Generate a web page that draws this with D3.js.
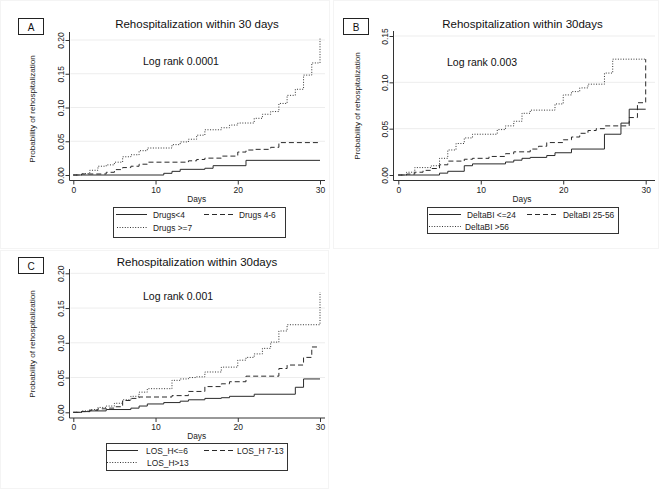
<!DOCTYPE html>
<html><head><meta charset="utf-8">
<script src="https://cdn.jsdelivr.net/npm/d3@7"></script>
<style>
body{margin:0;background:#fff;}
svg{display:block;font-family:"Liberation Sans",Arial,sans-serif;}
</style></head>
<body><svg id="c" width="668" height="491"></svg>
<script>
// ---------------- DATA ----------------
const xTicks = [0, 10, 20, 30];
const yTicksA = [0, 0.05, 0.10, 0.15, 0.20];
const yTicksB = [0, 0.05, 0.10, 0.15];
const yTicksC = [0, 0.05, 0.10, 0.15, 0.20];

// Panel A
const drugsLt4T = [0, 11, 12, 13, 16, 17, 21, 30];
const drugsLt4V = [0, 0.0025, 0.0054, 0.0084, 0.010, 0.0138, 0.0217, 0.0217];
const drugs4to6T = [0, 1, 4, 5, 6, 7, 8, 9, 14, 15, 16, 18, 20, 21, 22, 24, 25, 30];
const drugs4to6V = [0, 0.0015, 0.004, 0.008, 0.011, 0.013, 0.016, 0.019, 0.021, 0.023, 0.025, 0.028, 0.034, 0.037, 0.038, 0.041, 0.048, 0.048];
const drugsGe7T = [0, 1, 2, 3, 4, 5, 6, 7, 8, 9, 12, 13, 14, 15, 16, 18, 19, 20, 22, 23, 24, 25, 26, 27, 28, 29, 30];
const drugsGe7V = [0, 0.002, 0.007, 0.013, 0.015, 0.019, 0.027, 0.030, 0.036, 0.040, 0.045, 0.049, 0.053, 0.059, 0.067, 0.070, 0.074, 0.077, 0.084, 0.090, 0.094, 0.106, 0.118, 0.127, 0.148, 0.166, 0.202];

// Panel B
const dbiLe24T = [0, 5, 6, 8, 9, 13, 14, 15, 16, 18, 19, 21, 25, 27, 28, 30];
const dbiLe24V = [0, 0.002, 0.004, 0.010, 0.012, 0.014, 0.016, 0.018, 0.019, 0.021, 0.024, 0.028, 0.044, 0.056, 0.071, 0.071];
const dbi25to56T = [0, 1, 2, 3, 4, 5, 6, 8, 9, 11, 13, 14, 16, 17, 18, 20, 21, 22, 23, 24, 25, 28, 29, 30];
const dbi25to56V = [0, 0.001, 0.003, 0.005, 0.007, 0.011, 0.015, 0.017, 0.018, 0.020, 0.023, 0.025, 0.028, 0.031, 0.035, 0.038, 0.041, 0.045, 0.048, 0.050, 0.053, 0.062, 0.078, 0.125];
const dbiGt56T = [0, 1, 2, 4, 5, 6, 7, 8, 9, 12, 13, 14, 15, 16, 19, 20, 21, 22, 23, 25, 26, 30];
const dbiGt56V = [0, 0.003, 0.008, 0.010, 0.018, 0.027, 0.034, 0.040, 0.044, 0.049, 0.053, 0.058, 0.0666, 0.070, 0.0767, 0.0864, 0.090, 0.094, 0.098, 0.110, 0.125, 0.125];

// Panel C
const losLe6T = [0, 1, 2, 4, 7, 8, 9, 11, 13, 14, 16, 18, 19, 22, 27, 28, 30];
const losLe6V = [0, 0.001, 0.002, 0.004, 0.006, 0.009, 0.012, 0.014, 0.016, 0.018, 0.020, 0.021, 0.023, 0.026, 0.036, 0.048, 0.048];
const los7to13T = [0, 1, 2, 3, 4, 5, 6, 7, 8, 12, 14, 16, 18, 19, 21, 25, 26, 28, 29, 30];
const los7to13V = [0, 0.001, 0.003, 0.005, 0.006, 0.008, 0.017, 0.020, 0.022, 0.024, 0.030, 0.037, 0.041, 0.044, 0.052, 0.063, 0.068, 0.079, 0.094, 0.094];
const losGt13T = [0, 1, 2, 3, 4, 5, 6, 7, 8, 9, 12, 13, 14, 15, 16, 18, 20, 21, 22, 23, 24, 25, 26, 30];
const losGt13V = [0, 0.002, 0.004, 0.007, 0.009, 0.013, 0.018, 0.023, 0.029, 0.034, 0.046, 0.048, 0.050, 0.051, 0.058, 0.065, 0.075, 0.079, 0.084, 0.092, 0.101, 0.117, 0.126, 0.173];

const legendA = ["Drugs<4", "Drugs 4-6", "Drugs >=7"];
const legendB = ["DeltaBI <=24", "DeltaBI 25-56", "DeltaBI >56"];
const legendC = ["LOS_H<=6", "LOS_H 7-13", "LOS_H>13"];

// ---------------- DRAW ----------------
const svg = d3.select("#c");
const styles = [
  {dash: null, color: "#2a2a2a", w: 1},
  {dash: "5,3", color: "#2a2a2a", w: 1},
  {dash: "1,1.6", color: "#333", w: 1}
];

function zip(T, V) { return T.map((t, i) => ({t: t, v: V[i]})); }

function panel(cfg) {
  const g = svg.append("g");
  // faint panel frame
  g.append("rect").attr("x", cfg.frame[0]).attr("y", cfg.frame[1])
    .attr("width", cfg.frame[2]).attr("height", cfg.frame[3])
    .attr("fill", "none").attr("stroke", "#f4f4f4");

  const x = d3.scaleLinear().domain([0, 30]).range(cfg.xr);
  const y = d3.scaleLinear().domain([0, cfg.yTicks[cfg.yTicks.length - 1]]).range(cfg.yr);
  const L = cfg.reg[0], R = cfg.reg[1], T = cfg.reg[2], B = cfg.reg[3];

  // grid
  g.selectAll(".grid").data(cfg.yTicks.filter(d => d > 0)).enter().append("line")
    .attr("x1", L + 1).attr("x2", R).attr("y1", d => y(d)).attr("y2", d => y(d))
    .attr("stroke", "#ededed").attr("stroke-width", 1);

  // y axis
  const ya = g.append("g").attr("transform", `translate(${L},0)`)
    .call(d3.axisLeft(y).tickValues(cfg.yTicks).tickFormat(d3.format(".2f")).tickSize(4));
  ya.select(".domain").remove();
  ya.selectAll("line").attr("stroke", "#333");
  ya.selectAll("text").attr("transform", "rotate(-90)").attr("x", 0).attr("y", -5.5)
    .attr("dy", 0).attr("text-anchor", "middle").attr("font-size", 8.5)
    .attr("fill", "#222").attr("font-family", "Liberation Sans, Arial, sans-serif");
  g.append("line").attr("x1", L).attr("x2", L).attr("y1", T).attr("y2", B).attr("stroke", "#333");

  // x axis
  const xa = g.append("g").attr("transform", `translate(0,${B})`)
    .call(d3.axisBottom(x).tickValues(xTicks).tickSize(4).tickPadding(2));
  xa.select(".domain").remove();
  xa.selectAll("line").attr("stroke", "#333");
  xa.selectAll("text").attr("font-size", 8.5).attr("fill", "#222")
    .attr("font-family", "Liberation Sans, Arial, sans-serif");
  g.append("line").attr("x1", L).attr("x2", R).attr("y1", B).attr("y2", B).attr("stroke", "#333");

  // axis titles
  g.append("text").attr("x", (cfg.xr[0] + cfg.xr[1]) / 2).attr("y", B + 21)
    .attr("text-anchor", "middle").attr("font-size", 8.3).attr("fill", "#222").text("Days");
  g.append("text").attr("transform", `translate(${cfg.ytX},${cfg.ytY}) rotate(-90)`)
    .attr("text-anchor", "middle").attr("font-size", 8.1).attr("fill", "#222")
    .text("Probability of rehospitalization");

  // title
  g.append("text").attr("x", cfg.titleX).attr("y", cfg.titleY).attr("text-anchor", "middle")
    .attr("font-size", 11.5).attr("fill", "#111").text(cfg.title);
  // letter box
  g.append("rect").attr("x", cfg.box[0]).attr("y", cfg.box[1]).attr("width", 25).attr("height", 16)
    .attr("fill", "#fff").attr("stroke", "#222").attr("stroke-width", 1);
  g.append("text").attr("x", cfg.box[0] + 12.5).attr("y", cfg.box[1] + 12).attr("text-anchor", "middle")
    .attr("font-size", 10).attr("fill", "#111").text(cfg.letter);
  // log rank
  g.append("text").attr("x", cfg.lrX).attr("y", cfg.lrY).attr("font-size", 10.5).attr("fill", "#111")
    .text(cfg.logrank);

  // curves
  const line = d3.line().x(d => x(d.t)).y(d => y(d.v)).curve(d3.curveStepAfter);
  cfg.series.forEach((s, i) => {
    const st = styles[i];
    g.append("path").datum(zip(s[0], s[1])).attr("d", line).attr("fill", "none")
      .attr("stroke", st.color).attr("stroke-width", st.w)
      .attr("stroke-dasharray", st.dash);
  });

  // legend
  const lg = cfg.leg;
  g.append("rect").attr("x", lg.x).attr("y", lg.y).attr("width", lg.w).attr("height", lg.h)
    .attr("fill", "#fff").attr("stroke", "#333").attr("stroke-width", 1);
  const items = [
    {lx: lg.c1[0], lx2: lg.c1[1], tx: lg.c1[2], yy: lg.r1},
    {lx: lg.c2[0], lx2: lg.c2[1], tx: lg.c2[2], yy: lg.r1},
    {lx: lg.c3[0], lx2: lg.c3[1], tx: lg.c3[2], yy: lg.r2}
  ];
  items.forEach((it, i) => {
    const st = styles[i];
    g.append("line").attr("x1", it.lx).attr("x2", it.lx2).attr("y1", it.yy).attr("y2", it.yy)
      .attr("stroke", st.color).attr("stroke-width", st.w).attr("stroke-dasharray", st.dash);
    g.append("text").attr("x", it.tx).attr("y", it.yy + 3).attr("font-size", 8.4)
      .attr("fill", "#222").text(cfg.legend[i]);
  });
}

panel({
  frame: [0.5, 0.5, 329, 248], letter: "A", box: [18.5, 18.5],
  title: "Rehospitalization within 30 days", titleX: 197, titleY: 28,
  logrank: "Log rank 0.0001", lrX: 143, lrY: 65,
  xr: [73.3, 320], yr: [175, 40], yTicks: yTicksA, reg: [69.5, 325, 32, 180.5],
  ytX: 35, ytY: 109,
  series: [[drugsLt4T, drugsLt4V], [drugs4to6T, drugs4to6V], [drugsGe7T, drugsGe7V]],
  legend: legendA,
  leg: {x: 113.5, y: 207.5, w: 172, h: 30, r1: 214.5, r2: 227.5,
        c1: [116, 147, 153], c2: [204, 233, 239], c3: [117, 147, 153]}
});

panel({
  frame: [333.5, 0.5, 325, 248], letter: "B", box: [343.5, 18.5],
  title: "Rehospitalization within 30days", titleX: 522.5, titleY: 28,
  logrank: "Log rank 0.003", lrX: 447, lrY: 65.5,
  xr: [398.3, 645.7], yr: [175, 36], yTicks: yTicksB, reg: [393.5, 655, 31, 180.5],
  ytX: 360, ytY: 106,
  series: [[dbiLe24T, dbiLe24V], [dbi25to56T, dbi25to56V], [dbiGt56T, dbiGt56V]],
  legend: legendB,
  leg: {x: 427.5, y: 207.5, w: 191, h: 26, r1: 214.5, r2: 226.5,
        c1: [429, 461, 467], c2: [527, 557, 563], c3: [429, 461, 465]}
});

panel({
  frame: [0.5, 250.5, 328, 238], letter: "C", box: [18.5, 257.5],
  title: "Rehospitalization within 30days", titleX: 197, titleY: 266,
  logrank: "Log rank 0.001", lrX: 143, lrY: 300,
  xr: [73.3, 320], yr: [412.3, 273.3], yTicks: yTicksC, reg: [69.5, 325, 269, 418],
  ytX: 35, ytY: 344,
  series: [[losLe6T, losLe6V], [los7to13T, los7to13V], [losGt13T, losGt13V]],
  legend: legendC,
  leg: {x: 106.5, y: 443.5, w: 181, h: 27, r1: 450.5, r2: 462.5,
        c1: [107, 138, 146], c2: [204, 233, 237], c3: [107, 138, 147]}
});
</script>
</body></html>
